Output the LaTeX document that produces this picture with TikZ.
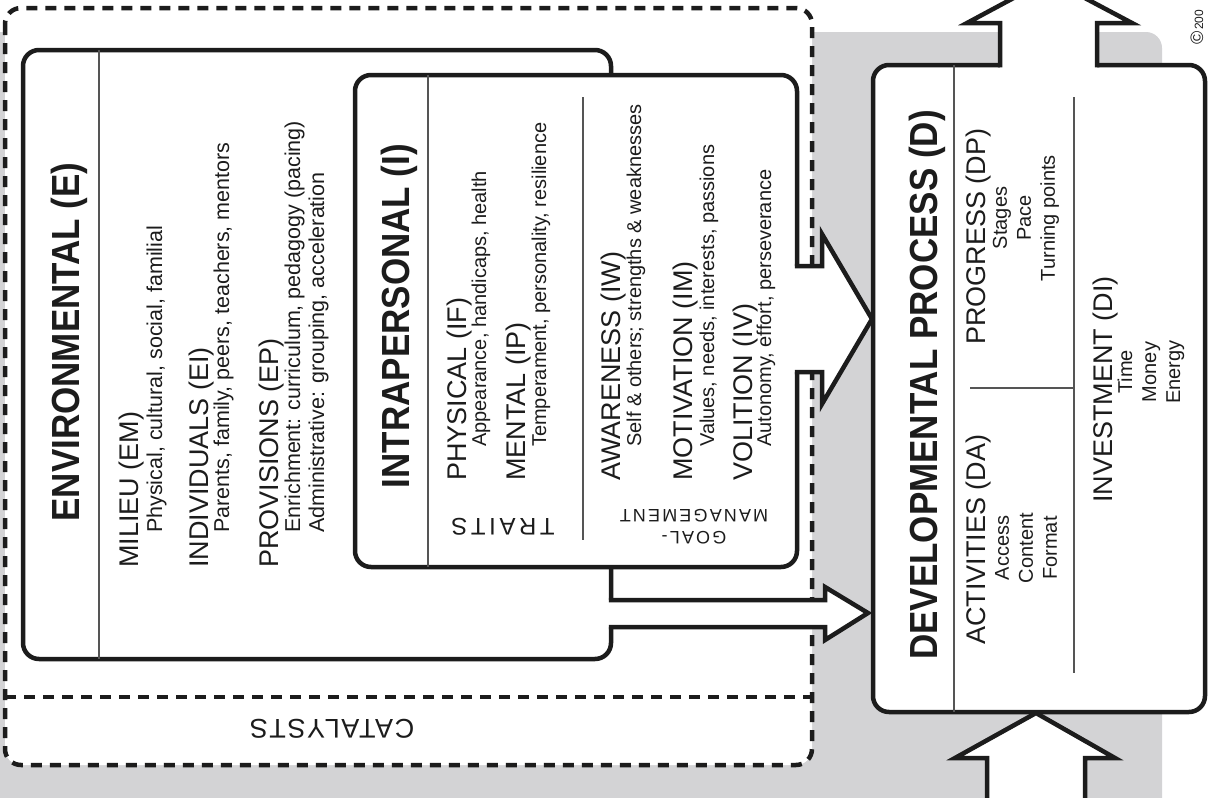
\documentclass[tikz,border=0pt]{standalone}
\usepackage{fontspec}
\setmainfont{Liberation Sans}
\usetikzlibrary{calc,positioning}
\definecolor{baggrund}{RGB}{211,211,213}
\definecolor{ink}{RGB}{28,28,28}
\tikzset{
    boks/.style={
           draw=ink, line width=4.5pt,
           fill=white,
           rounded corners=16pt},
    streg/.style={
           draw=ink!75, line width=1.4pt},
    stiplet/.style={
           draw=ink, line width=4.5pt,
           dash pattern=on 11pt off 8pt},
    pil/.style={
           draw=ink, line width=4.5pt,
           line join=miter, line cap=rect},
    titel/.style={
           rotate=90, yscale=1.12, anchor=base, inner sep=0pt, text=ink,
           font=\fontsize{35}{40}\selectfont\bfseries},
    hoved/.style={
           rotate=90, anchor=base west, inner sep=0pt, text=ink,
           font=\fontsize{27}{30}\selectfont},
    detalje/.style={
           rotate=90, anchor=base west, inner sep=0pt, text=ink,
           font=\fontsize{20}{24}\selectfont},
    liste/.style={
           rotate=90, align=center, inner sep=0pt, text=ink,
           font=\fontsize{20}{24}\selectfont},
    vendt/.style={
           rotate=180, align=center, inner sep=0pt, text=ink}
}
\begin{document}
\begin{tikzpicture}[x=1pt, y=-1pt]
        \useasboundingbox (0,0) rectangle (1208,798);
        \clip (0,0) rectangle (1208,798);

        \fill[baggrund, rounded corners=16pt] (-30,830) -- (-30,32) -- (1162,32) -- (1162,830) -- cycle;

        \draw[stiplet, fill=white, rounded corners=16pt] (5,8) rectangle (812,765);
        \draw[stiplet] (5,697) -- (812,697);
        \node[vendt, font=\fontsize{27}{30}\selectfont\addfontfeatures{LetterSpace=6}] (kat) at (332,729) {CATALYSTS};

        \draw[boks] (23,50) rectangle (611,659);
        \fill[white] (605,600) -- (825,600) -- (825,587) -- (868,613) -- (825,640) -- (825,627) -- (605,627) -- cycle;
        \draw[pil] (611,600) -- (825,600) -- (825,587) -- (868,613) -- (825,640) -- (825,627) -- (611,627);

        \draw[boks] (355,75) rectangle (797,567);
        \fill[white] (791,266) -- (822,266) -- (822,234) -- (872,319) -- (822,404) -- (822,372) -- (791,372) -- cycle;
        \draw[pil] (797,266) -- (822,266) -- (822,234) -- (872,319) -- (822,404) -- (822,372) -- (797,372);

        \fill[white] (987,830) -- (987,758) -- (955,758) -- (1036,713) -- (1115,758) -- (1085,758) -- (1085,830) -- cycle;
        \draw[pil] (987,830) -- (987,758) -- (955,758) -- (1036,713) -- (1115,758) -- (1085,758) -- (1085,830);

        \draw[boks] (873,65) rectangle (1205,712);
        \fill[white] (1000,70) -- (1000,23) -- (967,23) -- (1049,-21) -- (1132,23) -- (1097,23) -- (1097,70) -- cycle;
        \draw[pil] (1000,65) -- (1000,23) -- (967,23) -- (1049,-21) -- (1132,23) -- (1097,23) -- (1097,65);

        \draw[streg] (99,50) -- (99,659);
        \draw[streg] (428,75) -- (428,567);
        \draw[streg] (583,97) -- (583,540);
        \draw[streg] (954,65) -- (954,712);
        \draw[streg] (970,388) -- (1074,388);
        \draw[streg] (1074,97) -- (1074,673);

        \node[titel] (etitel) at (79,342) {ENVIRONMENTAL (E)};
        \node[hoved] (em) at (138,568) {MILIEU (EM)};
        \node[detalje, font=\fontsize{21.5}{24}\selectfont] (emtekst) at (162,533) {Physical, cultural, social, familial};
        \node[hoved] (ei) at (208,568) {INDIVIDUALS (EI)};
        \node[detalje, font=\fontsize{21.5}{24}\selectfont] (eitekst) at (229,533) {Parents, family, peers, teachers, mentors};
        \node[hoved] (ep) at (278,568) {PROVISIONS (EP)};
        \node[detalje, font=\fontsize{21.5}{24}\selectfont] (eptekst) at (300,533) {Enrichment: curriculum, pedagogy (pacing)};
        \node[detalje, font=\fontsize{21.5}{24}\selectfont] (eptekstb) at (324,533) {Administrative: grouping, acceleration};

        \node[titel] (ititel) at (409,316) {INTRAPERSONAL (I)};
        \node[hoved] (if) at (466,481) {PHYSICAL (IF)};
        \node[detalje] (iftekst) at (486,447) {Appearance, handicaps, health};
        \node[hoved] (ip) at (525,481) {MENTAL (IP)};
        \node[detalje] (iptekst) at (546,447) {Temperament, personality, resilience};
        \node[hoved] (iw) at (620,481) {AWARENESS (IW)};
        \node[detalje] (iwtekst) at (641,447) {Self \& others; strengths \& weaknesses};
        \node[hoved] (im) at (692,481) {MOTIVATION (IM)};
        \node[detalje] (imtekst) at (714,447) {Values, needs, interests, passions};
        \node[hoved] (iv) at (752,481) {VOLITION (IV)};
        \node[detalje] (ivtekst) at (771,447) {Autonomy, effort, perseverance};
        \node[vendt, font=\fontsize{24}{26}\selectfont\addfontfeatures{LetterSpace=15}] (traits) at (503,527) {TRAITS};
        \node[vendt, font=\fontsize{18}{22}\selectfont\addfontfeatures{LetterSpace=12}] (goal) at (694,527) {GOAL-\\MANAGEMENT};

        \node[titel] (dtitel) at (937,385) {DEVELOPMENTAL PROCESS (D)};
        \node[hoved] (da) at (985,645) {ACTIVITIES (DA)};
        \node[liste] (datekst) at (1026,548) {Access\\Content\\Format};
        \node[hoved] (dp) at (985,345) {PROGRESS (DP)};
        \node[liste] (dptekst) at (1026,218) {Stages\\Pace\\Turning points};
        \node[hoved] (di) at (1112,503) {INVESTMENT (DI)};
        \node[liste] (ditekst) at (1151,372) {Time\\Money\\Energy};

        \node[rotate=90, anchor=base west, inner sep=0pt, text=ink] (copy) at (1203,45) {{\fontsize{18}{18}\selectfont\textcopyright}\,{\fontsize{12}{12}\selectfont 200}};

    \end{tikzpicture}
\end{document}
